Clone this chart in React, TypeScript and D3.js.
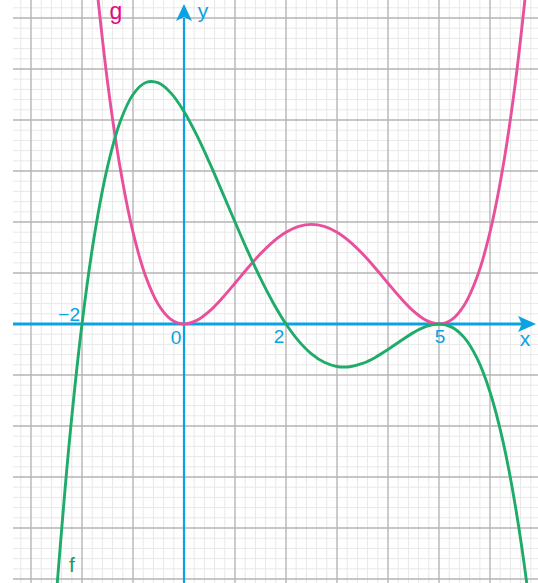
import React from "react";
import * as d3 from "d3";

// ---- data ----
const fX = [-2.5, -2.25, -2, -1.75, -1.5, -1.25, -1, -0.75, -0.5, -0.25, 0, 0.25, 0.5, 0.75, 1, 1.25, 1.5, 1.75, 2, 2.25, 2.5, 2.75, 3, 3.25, 3.5, 3.75, 4, 4.25, 4.5, 4.75, 5, 5.25, 5.5, 5.75, 6, 6.25, 6.5, 6.75, 7];
const fY = [-5.27, -2.33, 0, 1.78, 3.08, 3.97, 4.5, 4.735, 4.727, 4.522, 4.167, 3.702, 3.164, 2.587, 2.0, 1.428, 0.893, 0.413, 0, -0.335, -0.586, -0.751, -0.833, -0.837, -0.773, -0.655, -0.5, -0.33, -0.169, -0.048, 0, -0.061, -0.273, -0.681, -1.333, -2.283, -3.586, -5.303, -7.5];
const gX = [-1.75, -1.5, -1.25, -1, -0.75, -0.5, -0.25, 0, 0.25, 0.5, 0.75, 1, 1.25, 1.5, 1.75, 2, 2.25, 2.5, 2.75, 3, 3.25, 3.5, 3.75, 4, 4.25, 4.5, 4.75, 5, 5.25, 5.5, 5.75, 6, 6.25, 6.5, 6.75];
const gY = [6.977, 4.753, 3.052, 1.8, 0.93, 0.378, 0.086, 0, 0.0705, 0.253, 0.508, 0.8, 1.099, 1.378, 1.617, 1.8, 1.914, 1.953, 1.914, 1.8, 1.617, 1.378, 1.099, 0.8, 0.508, 0.253, 0.0705, 0, 0.086, 0.378, 0.93, 1.8, 3.052, 4.753, 6.977];

const xTickLabels = [
  { v: -2, t: "\u22122" },
  { v: 0, t: "0" },
  { v: 2, t: "2" },
  { v: 5, t: "5" },
];

const W = 538;
const H = 583;
const UNIT = 51;
const OX = 184;
const OY = 324;

const xS = d3.scaleLinear().domain([0, 1]).range([OX, OX + UNIT]);
const yS = d3.scaleLinear().domain([0, 1]).range([OY, OY - UNIT]);

const BLUE = "#0aa2e2";
const PINK = "#e84f9c";
const PINK_LABEL = "#e5077f";
const GREEN = "#1fab6a";
const GREEN_LABEL = "#1a9a5c";

export default function App() {
  const gridLeft = 13;
  const xMin = xS.invert(gridLeft);
  const xMax = xS.invert(W);
  const yTop = yS.invert(0);
  const yBot = yS.invert(H);

  const minorXs = d3.range(Math.ceil(xMin * 5), Math.floor(xMax * 5) + 1).map((i) => i / 5).filter((v) => Math.abs(v * 5 - Math.round(v) * 5) > 1e-6);
  const minorYs = d3.range(Math.ceil(yBot * 5), Math.floor(yTop * 5) + 1).map((i) => i / 5).filter((v) => Math.abs(v * 5 - Math.round(v) * 5) > 1e-6);
  const majorXs = d3.range(Math.ceil(xMin), Math.floor(xMax) + 1);
  const majorYs = d3.range(Math.ceil(yBot), Math.floor(yTop) + 1);

  const line = d3
    .line<[number, number]>()
    .x((d) => xS(d[0]))
    .y((d) => yS(d[1]))
    .curve(d3.curveCatmullRom.alpha(0.5));

  const fPath = line(fX.map((x, i) => [x, fY[i]] as [number, number])) || "";
  const gPath = line(gX.map((x, i) => [x, gY[i]] as [number, number])) || "";

  const font = "'Liberation Sans', Arial, Helvetica, sans-serif";

  return (
    <svg
      width={W}
      height={H}
      style={{ position: "absolute", left: 0, top: 0, background: "#fff" }}
    >
      <defs>
        <clipPath id="plot">
          <rect x={0} y={0} width={W} height={H} />
        </clipPath>
      </defs>
      {/* minor grid */}
      <g stroke="#e8e8e8" strokeWidth={1}>
        {minorXs.map((v) => (
          <line key={"mx" + v} x1={xS(v)} x2={xS(v)} y1={0} y2={H} />
        ))}
        {minorYs.map((v) => (
          <line key={"my" + v} x1={gridLeft} x2={W} y1={yS(v)} y2={yS(v)} />
        ))}
      </g>
      {/* major grid */}
      <g stroke="#b5b5b5" strokeWidth={1.4}>
        {majorXs.filter((v) => v !== 0).map((v) => (
          <line key={"Mx" + v} x1={xS(v)} x2={xS(v)} y1={0} y2={H} />
        ))}
        {majorYs.filter((v) => v !== 0).map((v) => (
          <line key={"My" + v} x1={gridLeft} x2={W} y1={yS(v)} y2={yS(v)} />
        ))}
      </g>
      {/* axes */}
      <g>
        <line x1={gridLeft} x2={522} y1={yS(0)} y2={yS(0)} stroke={BLUE} strokeWidth={2.8} />
        <path
          d={`M536,${yS(0)} L518,${yS(0) - 8} L522,${yS(0)} L518,${yS(0) + 8} Z`}
          fill={BLUE}
        />
        <line x1={xS(0)} x2={xS(0)} y1={H} y2={18} stroke={BLUE} strokeWidth={2.2} />
        <path
          d={`M${xS(0)},4 L${xS(0) - 8},21 L${xS(0)},17 L${xS(0) + 8},21 Z`}
          fill={BLUE}
        />
      </g>
      {/* curves */}
      <g clipPath="url(#plot)" fill="none" strokeWidth={2.9} strokeLinecap="round">
        <path d={gPath} stroke={PINK} />
        <path d={fPath} stroke={GREEN} />
      </g>
      {/* labels */}
      <g fontFamily={font} fill={BLUE} fontSize={19}>
        {xTickLabels.map((d) => {
          if (d.v < 0) {
            return (
              <text key={d.t} x={xS(d.v) - 2} y={yS(0) - 3} textAnchor="end">
                {d.t}
              </text>
            );
          }
          if (d.v === 0) {
            return (
              <text key={d.t} x={xS(d.v) - 8} y={yS(0) + 20} textAnchor="middle">
                {d.t}
              </text>
            );
          }
          const dx = d.v === 5 ? 1 : -7;
          return (
            <text key={d.t} x={xS(d.v) + dx} y={yS(0) + 19} textAnchor="middle">
              {d.t}
            </text>
          );
        })}
        <text x={525} y={346} textAnchor="middle" fontSize={21}>x</text>
        <text x={203} y={18} textAnchor="middle" fontSize={21}>y</text>
      </g>
      <text x={116} y={19} textAnchor="middle" fontFamily={font} fontSize={23} fill={PINK_LABEL}>g</text>
      <text x={72} y={572} textAnchor="middle" fontFamily={font} fontSize={21} fill={GREEN_LABEL}>f</text>
    </svg>
  );
}
